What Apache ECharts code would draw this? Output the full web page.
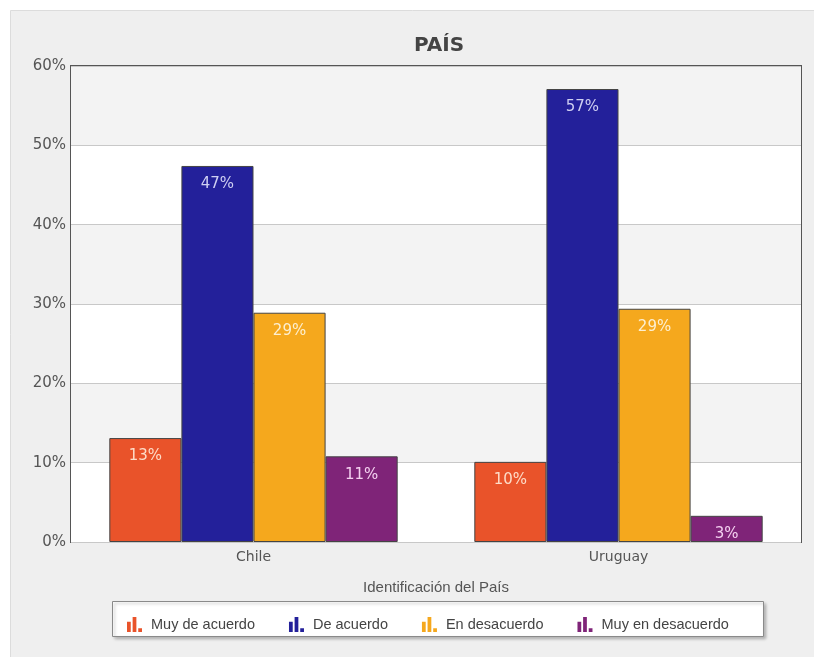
<!DOCTYPE html>
<html><head><meta charset="utf-8">
<script src="https://cdn.jsdelivr.net/npm/echarts@6/dist/echarts.min.js"></script>
<style>html,body{margin:0;padding:0;background:#fff}#c{width:814px;height:657px}</style>
</head><body><div id="c"></div>
<script>
const categories = ['Chile', 'Uruguay'];
const seriesNames = ['Muy de acuerdo', 'De acuerdo', 'En desacuerdo', 'Muy en desacuerdo'];
const muyDeAcuerdo = [13.1, 10.1];
const deAcuerdo = [47.4, 57.1];
const enDesacuerdo = [28.9, 29.4];
const muyEnDesacuerdo = [10.8, 3.3];
const labelsMuyDeAcuerdo = ['13%', '10%'];
const labelsDeAcuerdo = ['47%', '57%'];
const labelsEnDesacuerdo = ['29%', '29%'];
const labelsMuyEnDesacuerdo = ['11%', '3%'];
const yTicks = [0, 10, 20, 30, 40, 50, 60];

const colors = ['#E9532A', '#23209A', '#F5A81D', '#7F2478'];
const labelColors = ['#FDDCC8', '#CFCFF2', '#FDEFD0', '#F4D0F0'];
const values = [muyDeAcuerdo, deAcuerdo, enDesacuerdo, muyEnDesacuerdo];
const labels = [labelsMuyDeAcuerdo, labelsDeAcuerdo, labelsEnDesacuerdo, labelsMuyEnDesacuerdo];

const icon = 'path://M0,5 h4 v11 h-4z M6,0 h4 v16 h-4z M12,12 h4 v4 h-4z';

const chart = echarts.init(document.getElementById('c'), null, {renderer: 'canvas'});
chart.setOption({
  backgroundColor: '#ffffff',
  animation: false,
  graphic: [
    {type: 'rect', left: 10, top: 10, shape: {width: 810, height: 650}, style: {fill: '#efefef', stroke: '#dcdcdc', lineWidth: 1}, z: -10},
    {type: 'rect', left: 112, top: 601, shape: {width: 651, height: 35}, style: {fill: '#ffffff', stroke: '#8a8a8a', lineWidth: 1, shadowBlur: 3, shadowOffsetX: 2, shadowOffsetY: 2, shadowColor: 'rgba(0,0,0,0.25)'}, z: -5}
  ],
  title: {
    text: 'PAÍS', left: 434, textAlign: 'center', top: 31,
    textStyle: {fontFamily: 'DejaVu Sans', fontWeight: 'bold', fontSize: 20, color: '#444'}
  },
  legend: {
    left: 122, top: 612, itemGap: 34, itemWidth: 15, itemHeight: 15,
    icon: icon,
    itemStyle: {borderWidth: 0},
    data: seriesNames,
    textStyle: {fontFamily: 'Liberation Sans', fontSize: 14.5, color: '#444', padding: [0, 0, 0, 4]}
  },
  grid: {left: 71, right: 13, top: 66, bottom: 115, show: true, borderColor: '#555', borderWidth: 2, backgroundColor: '#fff'},
  xAxis: {
    type: 'category', data: categories,
    name: 'Identificación del País', nameLocation: 'middle', nameGap: 38,
    nameTextStyle: {fontFamily: 'Liberation Sans', fontSize: 15, color: '#555'},
    axisLine: {show: false}, axisTick: {show: false},
    axisLabel: {fontFamily: 'DejaVu Sans', fontSize: 14, color: '#555', margin: 8}
  },
  yAxis: {
    type: 'value', min: yTicks[0], max: yTicks[yTicks.length - 1], interval: 10,
    axisLine: {show: false}, axisTick: {show: false},
    axisLabel: {fontFamily: 'DejaVu Sans', fontSize: 15, color: '#555', formatter: '{value}%', margin: 5},
    splitLine: {lineStyle: {color: '#c8c8c8', width: 1}},
    splitArea: {show: true, areaStyle: {color: ['#ffffff', '#f3f3f3']}}
  },
  series: seriesNames.map((n, i) => ({
    name: n, type: 'bar', data: values[i],
    barGap: 0, barCategoryGap: '21%',
    itemStyle: {color: colors[i], borderColor: '#444', borderWidth: 1},
    label: {
      show: true, position: 'insideTop', distance: 11,
      fontFamily: 'DejaVu Sans', fontSize: 15, color: labelColors[i],
      formatter: p => labels[i][p.dataIndex]
    }
  }))
});
</script></body></html>
